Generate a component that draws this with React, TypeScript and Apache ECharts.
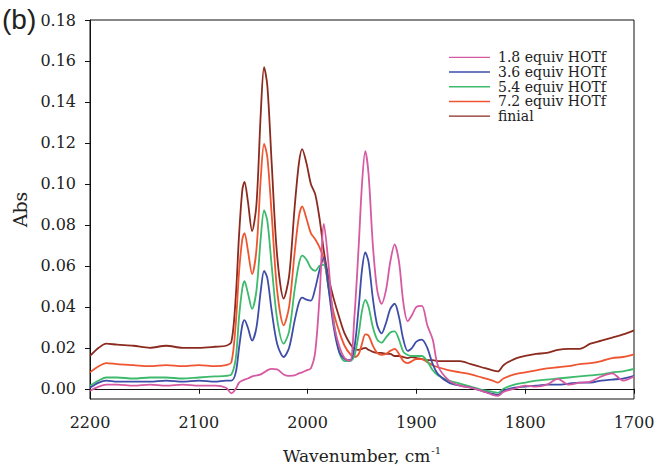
import React, { useEffect, useRef } from "react";
import * as echarts from "echarts";

const wavenumbers = [
  2200, 2192, 2185, 2175, 2160, 2145, 2130, 2115, 2100, 2085,
  2075, 2070, 2066, 2063, 2060, 2058, 2055, 2051, 2047, 2043,
  2040, 2037, 2033, 2028, 2022, 2017, 2012, 2008, 2005, 2001,
  1997, 1993, 1989, 1985, 1981, 1976, 1971, 1966, 1961, 1957,
  1953, 1950, 1947, 1944, 1940, 1936, 1932, 1928, 1924, 1920,
  1916, 1912, 1908, 1904, 1900, 1895, 1890, 1885, 1880, 1870,
  1860, 1850, 1840, 1830, 1825, 1820, 1810, 1800, 1790, 1780,
  1770, 1760, 1750, 1740, 1730, 1720, 1710, 1700,
];

const abs18 = [
  -0.001, 0.001, 0.002, 0.002, 0.0015, 0.002, 0.0015, 0.002, 0.0015, 0.0015,
  0.0005, -0.0022, 0.0, 0.003, 0.004, 0.0045, 0.005, 0.006, 0.0065, 0.007,
  0.008, 0.009, 0.0097, 0.0095, 0.007, 0.0063, 0.0065, 0.0075, 0.008, 0.009,
  0.01, 0.018, 0.045, 0.0805, 0.062, 0.032, 0.021, 0.015, 0.0135, 0.035,
  0.07, 0.1, 0.116, 0.105, 0.07, 0.048, 0.0415, 0.048, 0.062, 0.0705,
  0.062, 0.042, 0.033, 0.036, 0.04, 0.0405, 0.031, 0.024, 0.011, 0.004,
  0.0015, 0.0005, -0.001, -0.003, -0.0035, -0.0015, 0.0, 0.0015, 0.001, 0.002,
  0.0048, 0.002, 0.003, 0.0035, 0.006, 0.0075, 0.004, 0.006,
];

const abs36 = [
  0.0005, 0.003, 0.004, 0.0035, 0.0035, 0.0035, 0.004, 0.0035, 0.004, 0.0035,
  0.004, 0.004, 0.008, 0.02, 0.031, 0.0335, 0.03, 0.0235, 0.03, 0.048,
  0.0575, 0.054, 0.038, 0.022, 0.0155, 0.02, 0.033, 0.042, 0.0445, 0.0435,
  0.043, 0.049, 0.058, 0.064, 0.05, 0.03, 0.018, 0.0145, 0.014, 0.02,
  0.04, 0.058, 0.0665, 0.062, 0.044, 0.031, 0.027, 0.032, 0.039, 0.0415,
  0.035, 0.024, 0.0185, 0.02, 0.023, 0.024, 0.02, 0.012, 0.007, 0.003,
  0.0015, 0.0005, -0.001, -0.0025, -0.003, -0.001, 0.0005, 0.001, 0.0015, 0.002,
  0.002, 0.0025, 0.003, 0.003, 0.004, 0.0045, 0.005, 0.0063,
];

const abs54 = [
  0.0015, 0.004, 0.0055, 0.0055, 0.005, 0.0055, 0.0055, 0.005, 0.0055, 0.006,
  0.0063, 0.007, 0.015, 0.035, 0.049, 0.0525, 0.047, 0.039, 0.048, 0.074,
  0.087, 0.082, 0.06, 0.034, 0.022, 0.028, 0.048, 0.061, 0.065, 0.063,
  0.059, 0.0575, 0.06, 0.0605, 0.05, 0.033, 0.018, 0.0135, 0.0135, 0.016,
  0.027, 0.038, 0.0434, 0.04, 0.03, 0.024, 0.0225, 0.025, 0.0275, 0.028,
  0.024, 0.018, 0.0165, 0.016, 0.016, 0.016, 0.0135, 0.009, 0.0065, 0.004,
  0.0025, 0.001, -0.0005, -0.0015, -0.002, 0.0, 0.002, 0.003, 0.004, 0.0045,
  0.005, 0.0055, 0.006, 0.0065, 0.007, 0.008, 0.0085, 0.0097,
];

const abs72 = [
  0.008, 0.011, 0.0125, 0.012, 0.0115, 0.011, 0.0115, 0.011, 0.0115, 0.011,
  0.0115, 0.013, 0.032, 0.057, 0.073, 0.076, 0.068, 0.056, 0.068, 0.103,
  0.1195, 0.113, 0.085, 0.048, 0.031, 0.04, 0.066, 0.084, 0.089, 0.083,
  0.076, 0.073, 0.069, 0.063, 0.051, 0.037, 0.028, 0.021, 0.017, 0.0155,
  0.017, 0.022, 0.0265, 0.026, 0.021, 0.0175, 0.0165, 0.017, 0.0185, 0.0195,
  0.017, 0.0135, 0.0125, 0.0135, 0.0145, 0.0145, 0.013, 0.0115, 0.0105, 0.009,
  0.008, 0.007, 0.0055, 0.004, 0.003, 0.005, 0.007, 0.008, 0.009, 0.01,
  0.0105, 0.011, 0.012, 0.0125, 0.0135, 0.015, 0.0155, 0.0168,
];

const absFinal = [
  0.016, 0.02, 0.022, 0.0215, 0.021, 0.02, 0.021, 0.02, 0.02, 0.0205,
  0.021, 0.023, 0.045, 0.075, 0.097, 0.101, 0.092, 0.077, 0.09, 0.135,
  0.157, 0.148, 0.11, 0.065, 0.044, 0.055, 0.088, 0.11, 0.117, 0.11,
  0.1, 0.095, 0.083, 0.067, 0.055, 0.044, 0.035, 0.027, 0.022, 0.0195,
  0.019, 0.0195, 0.02, 0.019, 0.018, 0.0175, 0.0175, 0.017, 0.017, 0.016,
  0.016, 0.0155, 0.015, 0.0155, 0.015, 0.0145, 0.014, 0.014, 0.0135, 0.0135,
  0.0135, 0.012, 0.0105, 0.009, 0.0085, 0.0115, 0.0145, 0.016, 0.017, 0.0175,
  0.019, 0.0195, 0.0195, 0.022, 0.0235, 0.025, 0.0265, 0.0285,
];

const seriesNames = [
  "1.8 equiv HOTf",
  "3.6 equiv HOTf",
  "5.4 equiv HOTf",
  "7.2 equiv HOTf",
  "finial",
];
const seriesValues = [abs18, abs36, abs54, abs72, absFinal];
const seriesColors = ["#d65aa2", "#3e4ea8", "#3dba6c", "#ee5530", "#8b2a1f"];

const yTickValues = [0, 0.02, 0.04, 0.06, 0.08, 0.1, 0.12, 0.14, 0.16, 0.18];
const xTickValues = [2200, 2100, 2000, 1900, 1800, 1700];

const SERIF = "DejaVu Serif";

export default function App() {
  const ref = useRef<HTMLDivElement>(null);

  useEffect(() => {
    document.body.style.margin = "0";
    const chart = echarts.init(ref.current!, null, { renderer: "svg" });

    const series = seriesNames.map((name, i) => ({
      name,
      type: "line",
      data: wavenumbers.map((w, j) => [w, seriesValues[i][j]]),
      smooth: 0.3,
      symbol: "none",
      lineStyle: { width: 1.8, color: seriesColors[i] },
      itemStyle: { color: seriesColors[i] },
      z: 10 - i,
    }));

    chart.setOption({
      animation: false,
      backgroundColor: "#ffffff",
      textStyle: { fontFamily: SERIF },
      grid: {
        left: 90,
        right: 21,
        top: 20,
        bottom: 72,
        outerBoundsMode: "none",
        containLabel: false,
        show: true,
        borderColor: "#111",
        borderWidth: 1,
        backgroundColor: "transparent",
      },
      legend: {
        orient: "vertical",
        left: 449,
        top: 50,
        padding: 0,
        itemWidth: 41,
        itemHeight: 10,
        itemGap: 0,
        data: seriesNames.map((n, i) => ({
          name: n,
          icon: "path://M0,4.3 L41,4.3 L41,5.7 L0,5.7 Z",
          itemStyle: { color: seriesColors[i] },
        })),
        textStyle: {
          fontFamily: SERIF,
          fontSize: 14,
          lineHeight: 14.7,
          color: "#222",
          padding: [0, 0, 0, 3],
        },
      },
      graphic: [
        {
          type: "text",
          left: 2,
          top: 5,
          style: {
            text: "(b)",
            fontFamily: "Liberation Sans",
            fontSize: 28,
            fill: "#222",
          },
        },
      ],
      xAxis: {
        type: "value",
        inverse: true,
        min: 1700,
        max: 2200,
        interval: 100,
        name: "{a|Wavenumber, cm}{b|-1}",
        nameLocation: "middle",
        nameGap: 46,
        nameTextStyle: {
          rich: {
            a: { fontFamily: SERIF, fontSize: 17, color: "#222", lineHeight: 22 },
            b: {
              fontFamily: SERIF,
              fontSize: 10,
              color: "#222",
              lineHeight: 12,
              verticalAlign: "top",
              padding: [0, 0, 0, 1],
            },
          },
        },
        axisLine: { show: true, lineStyle: { color: "#111", width: 1 } },
        axisTick: { show: true, inside: false, length: 5, lineStyle: { color: "#111" } },
        axisLabel: {
          show: true,
          margin: 15,
          fontFamily: SERIF,
          fontSize: 16,
          color: "#222",
          formatter: (v: number) =>
            xTickValues.indexOf(Math.round(v)) >= 0 ? String(Math.round(v)) : "",
        },
        splitLine: { show: false },
      },
      yAxis: {
        type: "value",
        min: -0.005,
        max: 0.18,
        splitNumber: 9,
        name: "Abs",
        nameLocation: "middle",
        nameGap: 60,
        nameTextStyle: { fontFamily: SERIF, fontSize: 19, color: "#222" },
        axisLine: { show: true, lineStyle: { color: "#111", width: 1 } },
        axisTick: {
          show: true,
          inside: false,
          length: 5,
          lineStyle: { color: "#111" },
          customValues: yTickValues,
        },
        axisLabel: {
          show: true,
          margin: 14,
          fontFamily: SERIF,
          fontSize: 16,
          color: "#222",
          formatter: (v: number) => {
            const hit = yTickValues.some((t) => Math.abs(t - v) < 1e-6);
            return hit ? v.toFixed(2) : "";
          },
        },
        splitLine: { show: false },
      },
      series,
    });

    return () => chart.dispose();
  }, []);

  return (
    <div
      ref={ref}
      style={{ position: "absolute", left: 0, top: 0, width: 655, height: 471 }}
    />
  );
}
